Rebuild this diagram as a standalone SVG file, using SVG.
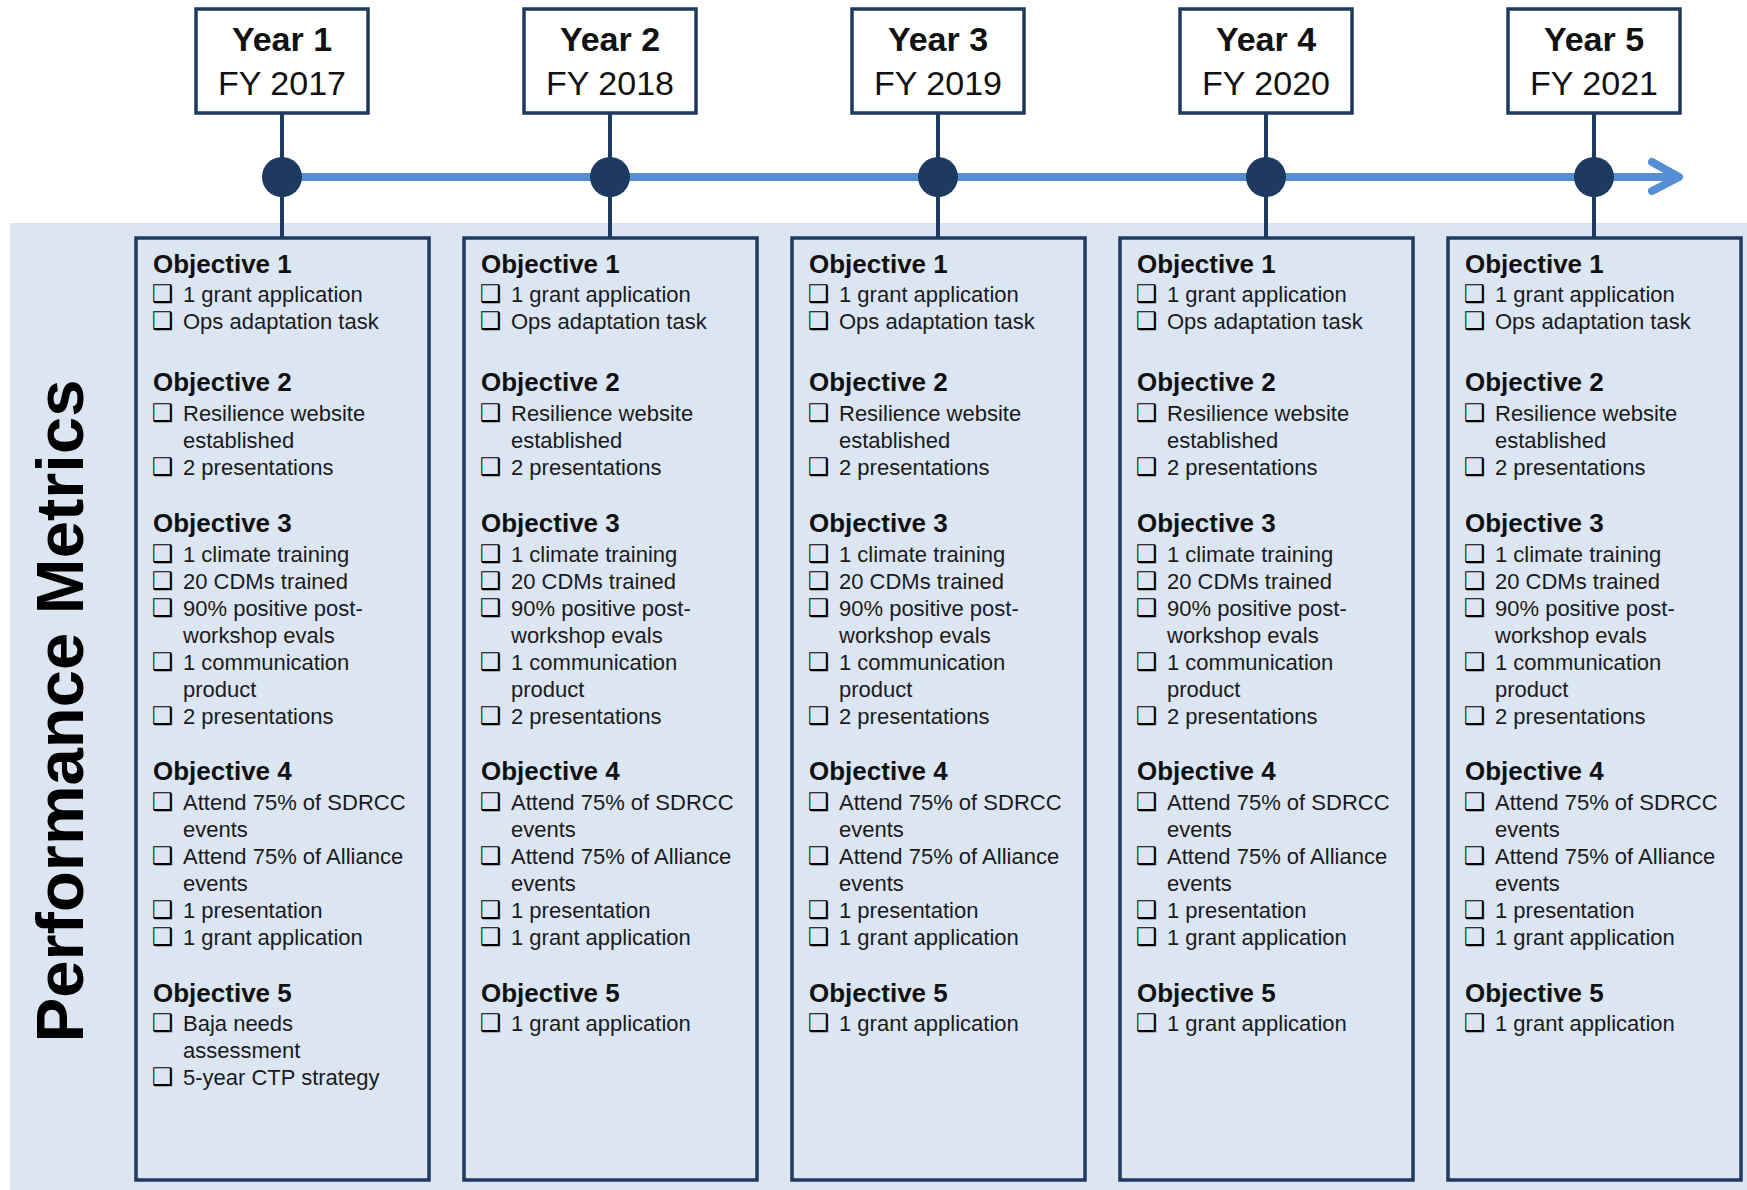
<svg xmlns="http://www.w3.org/2000/svg" width="1747" height="1190" viewBox="0 0 1747 1190">
<style>
.yr{fill:#fff;stroke:#1f3a60;stroke-width:3.5}
.box{fill:#dce6f2;stroke:#1f3a60;stroke-width:3.5}
.yt{font-family:"Liberation Sans",Arial,sans-serif;font-size:34px;fill:#111;text-anchor:middle}
.b{font-weight:bold}
.h{font-family:"Liberation Sans",Arial,sans-serif;font-size:26px;font-weight:bold;fill:#111}
.i{font-family:"Liberation Sans",Arial,sans-serif;font-size:22px;fill:#1a1a1a}
.cb{font-family:"DejaVu Sans",sans-serif;font-size:24px;font-weight:bold;fill:#000}
.vl{stroke:#1f3a60;stroke-width:4}
.dot{fill:#1f3a60}
.tl{stroke:#558ed5;stroke-width:8;fill:none;stroke-linecap:round;stroke-linejoin:round}
.pm{font-family:"Liberation Sans",Arial,sans-serif;font-size:67px;font-weight:bold;fill:#000;text-anchor:middle}
</style>
<defs>
<g id="col1">
<text class="h" x="17" y="273">Objective 1</text>
<text class="cb" x="16" y="302">❑</text><text class="i" x="47" y="302">1 grant application</text>
<text class="cb" x="16" y="329">❑</text><text class="i" x="47" y="329">Ops adaptation task</text>
<text class="h" x="17" y="391">Objective 2</text>
<text class="cb" x="16" y="421">❑</text><text class="i" x="47" y="421">Resilience website</text>
<text class="i" x="47" y="448">established</text>
<text class="cb" x="16" y="475">❑</text><text class="i" x="47" y="475">2 presentations</text>
<text class="h" x="17" y="532">Objective 3</text>
<text class="cb" x="16" y="562">❑</text><text class="i" x="47" y="562">1 climate training</text>
<text class="cb" x="16" y="589">❑</text><text class="i" x="47" y="589">20 CDMs trained</text>
<text class="cb" x="16" y="616">❑</text><text class="i" x="47" y="616">90% positive post-</text>
<text class="i" x="47" y="643">workshop evals</text>
<text class="cb" x="16" y="670">❑</text><text class="i" x="47" y="670">1 communication</text>
<text class="i" x="47" y="697">product</text>
<text class="cb" x="16" y="724">❑</text><text class="i" x="47" y="724">2 presentations</text>
<text class="h" x="17" y="780">Objective 4</text>
<text class="cb" x="16" y="810">❑</text><text class="i" x="47" y="810">Attend 75% of SDRCC</text>
<text class="i" x="47" y="837">events</text>
<text class="cb" x="16" y="864">❑</text><text class="i" x="47" y="864">Attend 75% of Alliance</text>
<text class="i" x="47" y="891">events</text>
<text class="cb" x="16" y="918">❑</text><text class="i" x="47" y="918">1 presentation</text>
<text class="cb" x="16" y="945">❑</text><text class="i" x="47" y="945">1 grant application</text>
<text class="h" x="17" y="1002">Objective 5</text>
</g>
</defs>
<rect x="10" y="223" width="1737" height="967" fill="#dce6f2"/>
<g id="title">
<text class="pm" transform="translate(83,711) rotate(-90)">Performance Metrics</text>
</g>
<g id="connectors">
<line class="vl" x1="282" y1="113" x2="282" y2="238"/>
<line class="vl" x1="610" y1="113" x2="610" y2="238"/>
<line class="vl" x1="938" y1="113" x2="938" y2="238"/>
<line class="vl" x1="1266" y1="113" x2="1266" y2="238"/>
<line class="vl" x1="1594" y1="113" x2="1594" y2="238"/>
<line class="tl" x1="282" y1="177" x2="1678" y2="177"/>
<polyline class="tl" points="1652,162 1679,177 1652,191"/>
<circle class="dot" cx="282" cy="177" r="20"/>
<circle class="dot" cx="610" cy="177" r="20"/>
<circle class="dot" cx="938" cy="177" r="20"/>
<circle class="dot" cx="1266" cy="177" r="20"/>
<circle class="dot" cx="1594" cy="177" r="20"/>
</g>
<g id="year1"><rect class="yr" x="196" y="9" width="172" height="104"/><text class="yt b" x="282" y="51">Year 1</text><text class="yt" x="282" y="95">FY 2017</text></g>
<g id="year2"><rect class="yr" x="524" y="9" width="172" height="104"/><text class="yt b" x="610" y="51">Year 2</text><text class="yt" x="610" y="95">FY 2018</text></g>
<g id="year3"><rect class="yr" x="852" y="9" width="172" height="104"/><text class="yt b" x="938" y="51">Year 3</text><text class="yt" x="938" y="95">FY 2019</text></g>
<g id="year4"><rect class="yr" x="1180" y="9" width="172" height="104"/><text class="yt b" x="1266" y="51">Year 4</text><text class="yt" x="1266" y="95">FY 2020</text></g>
<g id="year5"><rect class="yr" x="1508" y="9" width="172" height="104"/><text class="yt b" x="1594" y="51">Year 5</text><text class="yt" x="1594" y="95">FY 2021</text></g>
<g id="metrics1" transform="translate(136,0)">
<rect class="box" x="0" y="238" width="293" height="942"/>
<use href="#col1"/>
<text class="cb" x="16" y="1031">❑</text><text class="i" x="47" y="1031">Baja needs</text>
<text class="i" x="47" y="1058">assessment</text>
<text class="cb" x="16" y="1085">❑</text><text class="i" x="47" y="1085">5-year CTP strategy</text>
</g>
<g id="metrics2" transform="translate(464,0)">
<rect class="box" x="0" y="238" width="293" height="942"/>
<use href="#col1"/>
<text class="cb" x="16" y="1031">❑</text><text class="i" x="47" y="1031">1 grant application</text>
</g>
<g id="metrics3" transform="translate(792,0)">
<rect class="box" x="0" y="238" width="293" height="942"/>
<use href="#col1"/>
<text class="cb" x="16" y="1031">❑</text><text class="i" x="47" y="1031">1 grant application</text>
</g>
<g id="metrics4" transform="translate(1120,0)">
<rect class="box" x="0" y="238" width="293" height="942"/>
<use href="#col1"/>
<text class="cb" x="16" y="1031">❑</text><text class="i" x="47" y="1031">1 grant application</text>
</g>
<g id="metrics5" transform="translate(1448,0)">
<rect class="box" x="0" y="238" width="293" height="942"/>
<use href="#col1"/>
<text class="cb" x="16" y="1031">❑</text><text class="i" x="47" y="1031">1 grant application</text>
</g>
</svg>
